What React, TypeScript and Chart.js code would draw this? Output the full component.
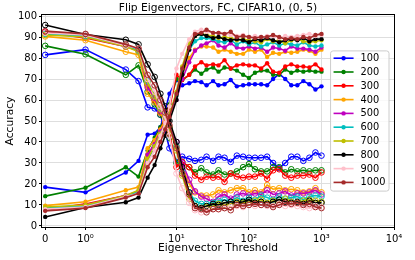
import React, { useEffect, useRef } from 'react';
import { Chart, Scale, registerables } from 'chart.js';

const TITLE = 'Flip Eigenvectors, FC, CIFAR10, (0, 5)';
const X_LABEL = 'Eigenvector Threshold';
const Y_LABEL = 'Accuracy';

const THRESHOLDS = [0, 1, 2, 3, 4, 5, 6, 7, 8, 10, 12, 15, 18, 22, 26, 32, 38, 46, 56, 68, 83, 100, 121, 147, 178, 215, 261, 316, 383, 464, 562, 681, 825, 1000];
const X_TICK_VALUES = [0, 1, 10, 100, 1000, 10000];
const X_TICK_LABELS = ['0', '10⁰', '10¹', '10²', '10³', '10⁴'];
const Y_TICK_VALUES = [0, 10, 20, 30, 40, 50, 60, 70, 80, 90, 100];

const SERIES_NAMES = ['100', '200', '300', '400', '500', '600', '700', '800', '900', '1000'];
const SERIES_COLORS = ['#0000ff', '#008000', '#ff0000', '#ffa500', '#bf00bf', '#00bfbf', '#bfbf00', '#000000', '#ffc0cb', '#a52a2a'];

const ACC_100 = [18.5, 16, 25.5, 31, 43.5, 44, 47, 55, 63, 69.5, 67, 68, 69, 68.5, 67, 69, 67, 67.5, 69.5, 66.5, 67, 67.5, 67.5, 67.5, 67, 70, 72.5, 70, 67, 67, 69, 67.5, 65, 66.5];
const FLIP_100 = [81.5, 84, 74.5, 69, 56.5, 56, 53, 45, 37, 30.5, 33, 32, 31, 31.5, 33, 31, 33, 32.5, 30.5, 33.5, 33, 32.5, 32.5, 32.5, 33, 30, 27.5, 30, 33, 33, 31, 32.5, 35, 33.5];
const ACC_200 = [14.2, 18.2, 28, 23.5, 36, 42, 47, 52, 58, 70, 69.5, 72, 74.5, 72.5, 74.5, 75.5, 73.5, 75.5, 75, 74, 72, 70.5, 73, 74, 74, 72, 72, 74.5, 73, 74, 73.5, 74, 73.5, 73.5];
const FLIP_200 = [85.8, 81.8, 72, 76.5, 64, 58, 53, 48, 42, 30, 30.5, 28, 25.5, 27.5, 25.5, 24.5, 26.5, 24.5, 25, 26, 28, 29.5, 27, 26, 26, 28, 28, 25.5, 27, 26, 26.5, 26, 26.5, 26.5];
const ACC_300 = [7.5, 10.5, 14.5, 16, 33, 40, 46, 51, 56, 72, 69.5, 72, 76, 78, 76.5, 77, 76.5, 79, 75, 76.5, 77, 76.5, 76.5, 75, 77.5, 73.5, 73, 76, 77, 76, 76, 75.5, 77, 74.5];
const FLIP_300 = [92.5, 89.5, 85.5, 84, 67, 60, 54, 49, 44, 28, 30.5, 28, 24, 22, 23.5, 23, 23.5, 21, 25, 23.5, 23, 23.5, 23.5, 25, 22.5, 26.5, 27, 24, 23, 24, 24, 24.5, 23, 25.5];
const ACC_400 = [9.7, 11.5, 17, 18.5, 37, 41, 46, 50, 54, 62, 72, 80, 84, 85.5, 85.5, 85, 83, 84, 83, 82, 82, 84, 83, 84, 80.5, 82.5, 82, 83, 82.5, 83, 84, 83.5, 82, 84];
const FLIP_400 = [90.3, 88.5, 83, 81.5, 63, 59, 54, 50, 46, 38, 28, 20, 16, 14.5, 14.5, 15, 17, 16, 17, 18, 18, 16, 17, 16, 19.5, 17.5, 18, 17, 17.5, 17, 16, 16.5, 18, 16];
const ACC_500 = [8, 10, 14.5, 16.5, 34, 39, 45, 49, 53, 60, 70, 78, 83.5, 86, 87, 88.5, 86, 85, 87, 85, 84.5, 85.5, 84.5, 85, 83, 85, 84.5, 83.5, 85.5, 84.5, 84.5, 84, 83, 85];
const FLIP_500 = [92, 90, 85.5, 83.5, 66, 61, 55, 51, 47, 40, 30, 22, 16.5, 14, 13, 11.5, 14, 15, 13, 15, 15.5, 14.5, 15.5, 15, 17, 15, 15.5, 16.5, 14.5, 15.5, 15.5, 16, 17, 15];
const ACC_600 = [8.5, 9.5, 14, 16.5, 31, 38, 44, 48, 53, 62, 74, 84, 88, 89.5, 89.5, 89, 88, 87.5, 88.5, 86.5, 88, 86.5, 87.5, 85.5, 86.5, 87.5, 86, 87, 86.5, 86, 87.5, 86, 85.5, 86];
const FLIP_600 = [91.5, 90.5, 86, 83.5, 69, 62, 56, 52, 47, 38, 26, 16, 12, 10.5, 10.5, 11, 12, 12.5, 11.5, 13.5, 12, 13.5, 12.5, 14.5, 13.5, 12.5, 14, 13, 13.5, 14, 12.5, 14, 14.5, 14];
const ACC_700 = [9, 10, 14.5, 17, 32, 38, 44, 48, 53, 64, 76, 87, 90.5, 91.5, 91, 90.5, 89.5, 90, 89.5, 88.5, 89, 88.5, 88, 87.5, 89, 88, 88.5, 87, 88.5, 89, 88, 87.5, 88, 88.5];
const FLIP_700 = [91, 90, 85.5, 83, 68, 62, 56, 52, 47, 36, 24, 13, 9.5, 8.5, 9, 9.5, 10.5, 10, 10.5, 11.5, 11, 11.5, 12, 12.5, 11, 12, 11.5, 13, 11.5, 11, 12, 12.5, 12, 11.5];
const ACC_800 = [4.3, 8.8, 11.3, 13.5, 23, 29, 37, 43, 50, 60, 72, 84, 90.5, 91.5, 90.5, 89.5, 90, 89, 88.5, 89, 88.5, 87.5, 89, 88.5, 89.5, 88.5, 87.5, 88.5, 89, 88.5, 89.5, 88, 89, 89];
const FLIP_800 = [95.7, 91.2, 88.7, 86.5, 77, 71, 63, 57, 50, 40, 28, 16, 9.5, 8.5, 9.5, 10.5, 10, 11, 11.5, 11, 11.5, 12.5, 11, 11.5, 10.5, 11.5, 12.5, 11.5, 11, 11.5, 10.5, 12, 11, 11];
const ACC_900 = [8, 9, 14, 15.5, 30, 36, 43, 49, 57, 75, 82, 89, 92.5, 93.5, 92.5, 92, 92, 91.5, 91, 90.5, 91, 90, 90.5, 90, 90.5, 90.5, 89.5, 90.5, 90, 90.5, 91, 91.5, 90.5, 91];
const FLIP_900 = [92, 91, 86, 84.5, 70, 64, 57, 51, 43, 25, 18, 11, 7.5, 6.5, 7.5, 8, 8, 8.5, 9, 9.5, 9, 10, 9.5, 10, 9.5, 9.5, 10.5, 9.5, 10, 9.5, 9, 8.5, 9.5, 9];
const ACC_1000 = [7.2, 8.5, 13.5, 15.5, 28, 33, 40, 46, 52, 63, 75, 85, 91.5, 92, 93.5, 92, 92, 91.5, 92.5, 90, 90.5, 90, 89.5, 90, 90, 91, 90, 89, 89.5, 89, 90, 89.5, 91, 91.5];
const FLIP_1000 = [92.8, 91.5, 86.5, 84.5, 72, 67, 60, 54, 48, 37, 25, 15, 8.5, 8, 6.5, 8, 8, 8.5, 7.5, 10, 9.5, 10, 10.5, 10, 10, 9, 10, 11, 10.5, 11, 10, 10.5, 9, 8.5];

const ACC_SERIES = [ACC_100, ACC_200, ACC_300, ACC_400, ACC_500, ACC_600, ACC_700, ACC_800, ACC_900, ACC_1000];
const FLIP_SERIES = [FLIP_100, FLIP_200, FLIP_300, FLIP_400, FLIP_500, FLIP_600, FLIP_700, FLIP_800, FLIP_900, FLIP_1000];

const FONT = '"DejaVu Sans", sans-serif';

// symmetric log transform (linthresh 2, linscale 1, base 10)
const LIN_THRESH = 2;
const LIN_ADJ = 1 / (1 - 1 / 10);
function symlogT(v: number): number {
  const a = Math.abs(v);
  if (a <= LIN_THRESH) return (v / LIN_THRESH) * LIN_ADJ;
  return Math.sign(v) * (LIN_ADJ + Math.log10(a / LIN_THRESH));
}
function symlogInv(t: number): number {
  const a = Math.abs(t);
  if (a <= LIN_ADJ) return (t / LIN_ADJ) * LIN_THRESH;
  return Math.sign(t) * LIN_THRESH * Math.pow(10, a - LIN_ADJ);
}

class SymlogScale extends Scale {
  static id = 'symlog';
  static defaults = {};
  determineDataLimits() {
    const mm = (this as any).getMinMax(true);
    (this as any).min = Number.isFinite(mm.min) ? mm.min : 0;
    (this as any).max = Number.isFinite(mm.max) ? mm.max : 1000;
  }
  buildTicks() {
    const s = this as any;
    return X_TICK_VALUES.filter((v) => v >= s.min && v <= s.max).map((v) => ({ value: v }));
  }
  getLabelForValue(value: number) {
    return String(value);
  }
  configure() {
    super.configure();
    const s = this as any;
    s._t0 = symlogT(s.min);
    s._t1 = symlogT(s.max);
  }
  getPixelForValue(value: number) {
    const s = this as any;
    return s.getPixelForDecimal((symlogT(value) - s._t0) / (s._t1 - s._t0));
  }
  getValueForPixel(pixel: number) {
    const s = this as any;
    return symlogInv(s._t0 + s.getDecimalForPixel(pixel) * (s._t1 - s._t0));
  }
}

Chart.register(...registerables, SymlogScale as any);

const spinePlugin = {
  id: 'spines',
  afterDatasetsDraw(chart: any) {
    const { ctx, chartArea } = chart;
    ctx.save();
    ctx.strokeStyle = '#000';
    ctx.lineWidth = 1;
    ctx.strokeRect(chartArea.left - 0.5, chartArea.top - 0.5, chartArea.right - chartArea.left + 1, chartArea.bottom - chartArea.top + 1);
    ctx.restore();
  },
};

const legendPlugin = {
  id: 'mplLegend',
  afterDraw(chart: any) {
    const { ctx, chartArea } = chart;
    const fontSize = 9.8;
    ctx.save();
    ctx.font = `${fontSize}px ${FONT}`;
    const textW = Math.max(...SERIES_NAMES.map((n) => ctx.measureText(n).width));
    const padX = 3;
    const handleLen = 20;
    const handleGap = 7;
    const padRight = 3.5;
    const rowH = 13.8;
    const padTop = 7.3;
    const padBottom = 8.7;
    const w = padX + handleLen + handleGap + textW + padRight;
    const h = padTop + rowH * (SERIES_NAMES.length - 1) + padBottom;
    const right = chartArea.right - 5;
    const left = right - w;
    const top = (chartArea.top + chartArea.bottom) / 2 - h / 2;
    ctx.beginPath();
    if (ctx.roundRect) ctx.roundRect(left, top, w, h, 2.5);
    else ctx.rect(left, top, w, h);
    ctx.fillStyle = 'rgba(255,255,255,0.8)';
    ctx.fill();
    ctx.strokeStyle = '#cccccc';
    ctx.lineWidth = 1;
    ctx.stroke();
    SERIES_NAMES.forEach((name, i) => {
      const y = top + padTop + i * rowH;
      const color = SERIES_COLORS[i];
      ctx.strokeStyle = color;
      ctx.lineWidth = 1.6;
      ctx.beginPath();
      ctx.moveTo(left + padX, y);
      ctx.lineTo(left + padX + handleLen, y);
      ctx.stroke();
      ctx.fillStyle = color;
      ctx.beginPath();
      ctx.arc(left + padX + handleLen / 2, y, 2.2, 0, Math.PI * 2);
      ctx.fill();
      ctx.fillStyle = '#000';
      ctx.textBaseline = 'middle';
      ctx.textAlign = 'left';
      ctx.fillText(name, left + padX + handleLen + handleGap, y + 0.5);
    });
    ctx.restore();
  },
};

export default function App() {
  const canvasRef = useRef<HTMLCanvasElement | null>(null);

  useEffect(() => {
    document.body.style.margin = '0';
    const canvas = canvasRef.current;
    if (!canvas) return;

    const datasets: any[] = [];
    const total = SERIES_NAMES.length * 2;
    let k = 0;
    SERIES_NAMES.forEach((name, i) => {
      const color = SERIES_COLORS[i];
      datasets.push({
        label: name,
        data: THRESHOLDS.map((x, j) => ({ x, y: ACC_SERIES[i][j] })),
        borderColor: color,
        backgroundColor: color,
        borderWidth: 1.6,
        pointRadius: 2.2,
        pointBorderWidth: 0,
        pointBackgroundColor: color,
        tension: 0,
        order: total - 1 - k++,
      });
      datasets.push({
        label: name + ' flipped',
        data: THRESHOLDS.map((x, j) => ({ x, y: FLIP_SERIES[i][j] })),
        borderColor: color,
        backgroundColor: 'rgba(0,0,0,0)',
        borderWidth: 1.6,
        pointRadius: 2.8,
        pointBorderWidth: 1,
        pointBorderColor: color,
        pointBackgroundColor: 'rgba(0,0,0,0)',
        tension: 0,
        order: total - 1 - k++,
      });
    });

    const chart = new Chart(canvas, {
      type: 'line',
      data: { datasets },
      options: {
        responsive: false,
        animation: false,
        events: [],
        layout: { padding: { left: 0, right: 21, top: 0, bottom: 0 } },
        plugins: {
          legend: { display: false },
          tooltip: { enabled: false },
          title: {
            display: true,
            text: TITLE,
            fullSize: false,
            color: '#000',
            font: { family: FONT, size: 10.7, weight: 'normal' },
            padding: { top: 1.6, bottom: 0.56 },
          },
        },
        scales: {
          x: {
            type: 'symlog' as any,
            min: -0.08,
            max: 10000,
            afterFit: (scale: any) => {
              scale.height = 33;
            },
            grid: {
              color: '#dedede',
              lineWidth: 1,
              drawTicks: true,
              tickLength: 3,
              tickColor: '#000',
            },
            border: { display: false },
            ticks: {
              color: '#000',
              font: { family: FONT, size: 10 },
              padding: 3.5,
              maxRotation: 0,
              autoSkip: false,
              callback: (value: any) => {
                const idx = X_TICK_VALUES.indexOf(Number(value));
                return idx >= 0 ? X_TICK_LABELS[idx] : '';
              },
            },
            title: {
              display: true,
              text: X_LABEL,
              color: '#000',
              font: { family: FONT, size: 10.7 },
              padding: { top: 0, bottom: 5 },
            },
          } as any,
          y: {
            type: 'linear',
            min: -0.5,
            max: 100.5,
            afterFit: (scale: any) => {
              scale.width = 42;
            },
            afterBuildTicks: (scale: any) => {
              scale.ticks = Y_TICK_VALUES.map((v) => ({ value: v }));
            },
            grid: {
              color: '#dedede',
              lineWidth: 1,
              drawTicks: true,
              tickLength: 3,
              tickColor: '#000',
            },
            border: { display: false },
            ticks: {
              color: '#000',
              font: { family: FONT, size: 10 },
              padding: 2,
              callback: (value: any) => String(value),
            },
            title: {
              display: true,
              text: Y_LABEL,
              color: '#000',
              font: { family: FONT, size: 10.7 },
              padding: { top: 4, bottom: 0 },
            },
          },
        },
      },
      plugins: [spinePlugin, legendPlugin],
    });

    return () => {
      chart.destroy();
    };
  }, []);

  return (
    <div style={{ width: 415, height: 260 }}>
      <canvas ref={canvasRef} width={415} height={260} style={{ display: 'block' }} />
    </div>
  );
}
